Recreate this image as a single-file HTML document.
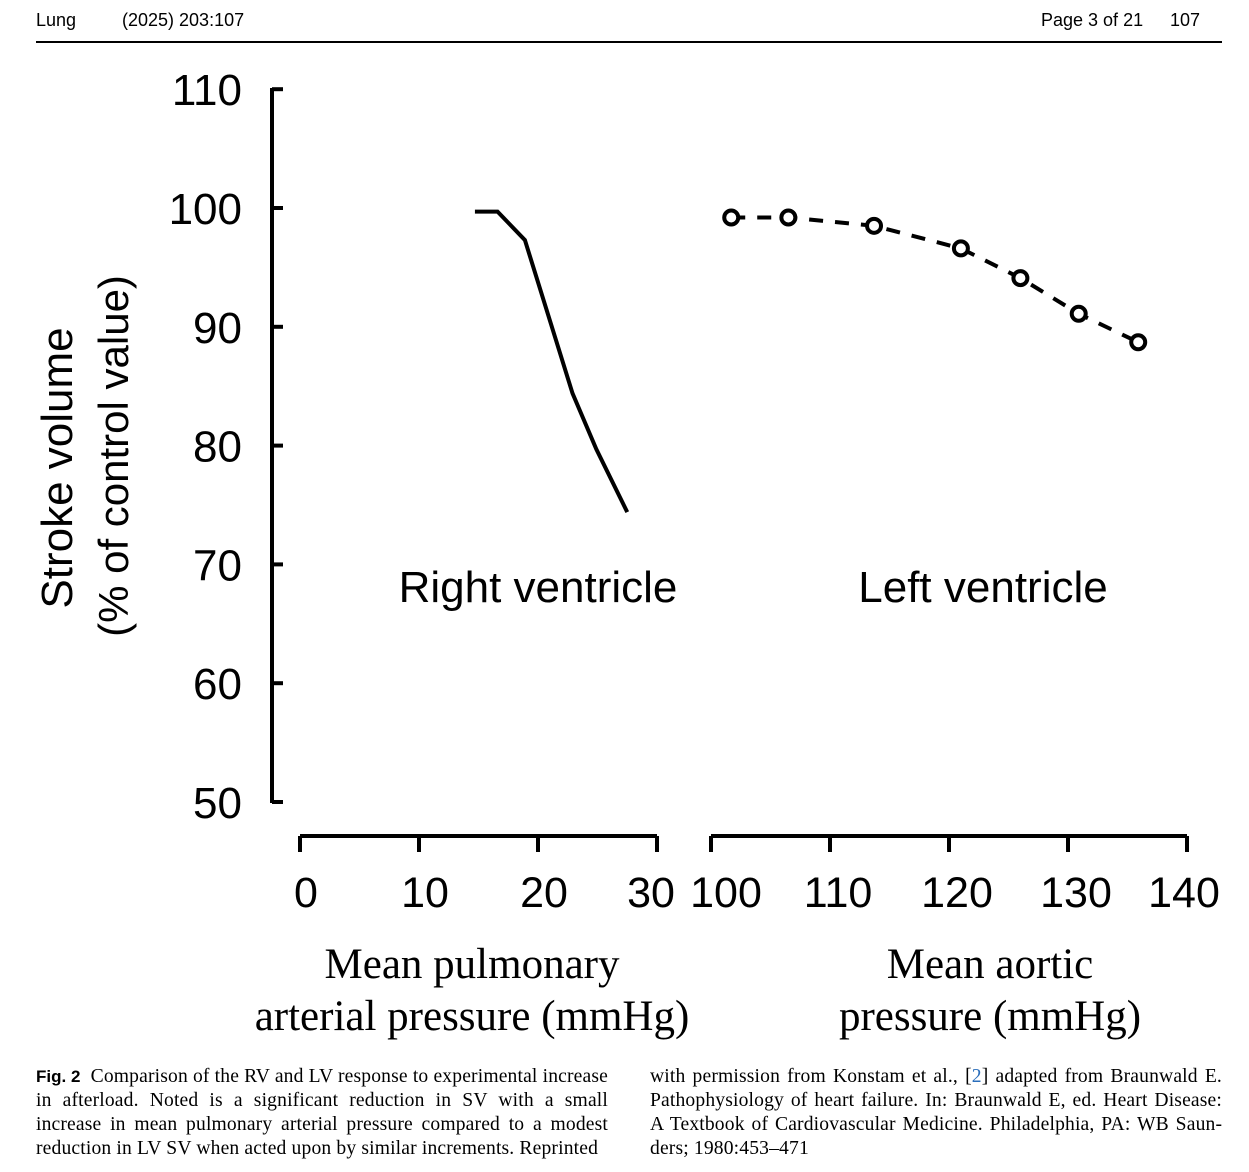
<!DOCTYPE html>
<html><head><meta charset="utf-8"><style>
html,body{margin:0;padding:0;background:#fff;}
body{width:1249px;height:1172px;position:relative;overflow:hidden;font-family:"Liberation Sans",sans-serif;}
.hdr{position:absolute;top:10px;font-size:18px;color:#000;}
.rule{position:absolute;left:36px;top:41px;width:1186px;height:2px;background:#000;}
.cap{position:absolute;top:1065px;width:572px;font-family:"Liberation Serif",serif;font-size:19.6px;letter-spacing:0.15px;line-height:24px;text-align:justify;color:#000;hyphens:manual;}
</style></head><body>
<div class="hdr" style="left:36px">Lung</div>
<div class="hdr" style="left:122px">(2025) 203:107</div>
<div class="hdr" style="left:1041px">Page 3 of 21</div>
<div class="hdr" style="left:1170px">107</div>
<div class="rule"></div>
<svg id="chart" width="1249" height="1172" style="position:absolute;left:0;top:0"></svg>
<div class="cap" style="left:36px"><b style="font-family:'Liberation Sans',sans-serif;font-size:17px;letter-spacing:0">Fig. 2</b>&nbsp; Comparison of the RV and LV response to experimental increase in afterload. Noted is a significant reduction in SV with a small increase in mean pulmonary arterial pressure compared to a modest reduction in LV SV when acted upon by similar increments. Reprinted</div>
<div class="cap" style="left:650px">with permission from Konstam et al., [<span style="color:#2a6ebb">2</span>] adapted from Braunwald E. Pathophysiology of heart failure. In: Braunwald E, ed. Heart Disease: A Textbook of Cardiovascular Medicine. Philadelphia, PA: WB Saun&shy;ders; 1980:453–471</div>
<script>
const yTicks=[50,60,70,80,90,100,110];
const rvTicks=[0,10,20,30];
const lvTicks=[100,110,120,130,140];
const rvX=[14.7,16.6,18.9,22.9,24.9,27.5];
const rvY=[99.7,99.7,97.3,84.4,79.7,74.4];
const lvX=[101.7,106.5,113.7,121,126,130.9,135.9];
const lvY=[99.2,99.2,98.5,96.6,94.1,91.1,88.7];
const svg=document.getElementById('chart');
const NS='http://www.w3.org/2000/svg';
const Y=v=>208-(v-100)*11.88;
const XR=v=>300+v*11.9;
const XL=v=>711+(v-100)*11.9;
function mk(t,a,txt){const e=document.createElementNS(NS,t);for(const k in a)e.setAttribute(k,a[k]);if(txt!==undefined)e.textContent=txt;svg.appendChild(e);return e;}
const FONT='"Liberation Sans",sans-serif';
let e=mk('line',{x1:272,y1:88,x2:272,y2:803,stroke:'#000','stroke-width':4});

yTicks.forEach(v=>{
 let t=mk('line',{x1:272,x2:283,y1:Y(v),y2:Y(v),stroke:'#000','stroke-width':4});
 
 let l=mk('text',{x:242,y:Y(v)+16,'text-anchor':'end','font-family':FONT,'font-size':44},String(v));
 
});
e=mk('line',{x1:XR(0),y1:836,x2:XR(30),y2:836,stroke:'#000','stroke-width':4});

rvTicks.forEach(v=>{
 let t=mk('line',{x1:XR(v),x2:XR(v),y1:836,y2:852,stroke:'#000','stroke-width':4});
 
 let l=mk('text',{x:XR(v)+(v==30?-6:6),y:907,'text-anchor':'middle','font-family':FONT,'font-size':43},String(v));
 
});
e=mk('line',{x1:XL(100),y1:836,x2:XL(140),y2:836,stroke:'#000','stroke-width':4});

lvTicks.forEach(v=>{
 let t=mk('line',{x1:XL(v),x2:XL(v),y1:836,y2:852,stroke:'#000','stroke-width':4});
 
 let l=mk('text',{x:XL(v)+(v==100?15:v==140?-3:8),y:907,'text-anchor':'middle','font-family':FONT,'font-size':43},String(v));
 
});
let p=mk('polyline',{points:rvX.map((x,i)=>XR(x)+','+Y(rvY[i])).join(' '),fill:'none',stroke:'#000','stroke-width':4});

p=mk('polyline',{points:lvX.map((x,i)=>XL(x)+','+Y(lvY[i])).join(' '),fill:'none',stroke:'#000','stroke-width':4,'stroke-dasharray':'14 12'});

lvX.forEach((x,i)=>{
 let c=mk('circle',{cx:XL(x),cy:Y(lvY[i]),r:7,fill:'#fff',stroke:'#000','stroke-width':4});
 
});
const SER='"Liberation Serif",serif';
[['Right ventricle',538,'rv-label'],['Left ventricle',983,'lv-label']].forEach(a=>{
 let t=mk('text',{x:a[1],y:602,'text-anchor':'middle','font-family':FONT,'font-size':44},a[0]);
 
});
[['Mean pulmonary',472,978],['arterial pressure (mmHg)',472,1030],['Mean aortic',990,978],['pressure (mmHg)',990,1030]].forEach(a=>{
 let t=mk('text',{x:a[1],y:a[2],'text-anchor':'middle','font-family':SER,'font-size':43},a[0]);
 
});
let t=mk('text',{x:0,y:0,transform:'translate(72,468) rotate(-90)','text-anchor':'middle','font-family':FONT,'font-size':44},'Stroke volume');

t=mk('text',{x:0,y:0,transform:'translate(128,456) rotate(-90)','text-anchor':'middle','font-family':FONT,'font-size':42},'(% of control value)');

</script>
</body></html>
